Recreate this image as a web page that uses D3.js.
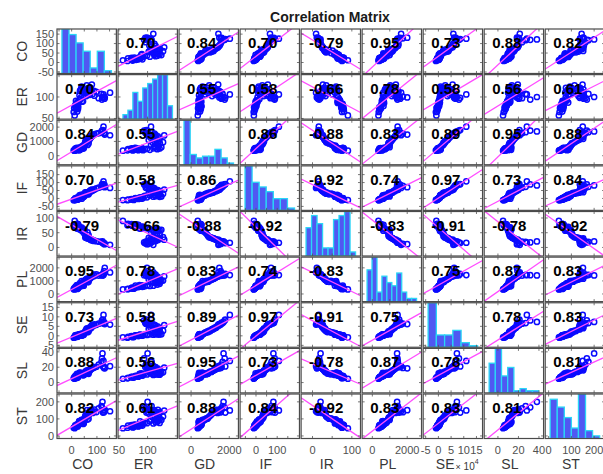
<!DOCTYPE html>
<html>
<head>
<meta charset="utf-8">
<script src="https://cdn.jsdelivr.net/npm/d3@7"></script>
<style>
  body { margin: 0; background: #fff; }
  svg { display: block; }
  text { font-family: "Liberation Sans", Arial, sans-serif; }
</style>
</head>
<body>
<svg id="chart" width="603" height="474"></svg>
<script>
// ---- data: 60 observations of nine indicators ----
const variables = ["CO", "ER", "GD", "IF", "IR", "PL", "SE", "SL", "ST"];

const CO = [12, 22, 8, 25, 15, 19, 10, 26, 18, 14, 24, 20, 16, 23, 17, 21,
  30, 40, 29.5, 45, 34, 37, 31, 48, 36, 43, 33, 46, 39, 42,
  52, 63, 50, 67, 56, 60, 54, 69, 58, 65, 61,
  74, 72, 78, 76, 83, 80, 88, 90, 98, 107,
  118, 122, 120, 126, 124, 130, 128, 131, 152];
const ER = [57, 66, 65, 72, 76, 71.8, 74, 77, 73, 80, 84, 79, 83, 88, 91, 86, 92, 89, 87, 90,
  95, 99, 104, 110, 117, 121, 114, 119, 124, 112,
  118, 106, 116, 121.5, 109, 127, 113, 120, 102, 117,
  111, 121, 105, 114.5, 118, 107, 129, 114, 103, 112,
  97, 107, 100, 94, 106, 98, 96, 101, 99, 110];
const GD = [350, 470, 380, 510, 400, 445, 365, 530, 420, 490, 385, 545, 410, 475, 440, 520,
  390, 500, 430, 535, 455, 480, 415, 515, 460, 505,
  580, 620, 600, 670, 710, 750, 800, 860, 900, 950,
  1010, 1060, 1100, 1140, 1180, 1220, 1270, 1310, 1350, 1390,
  1420, 1460, 1500, 1540, 1580, 1650, 1700, 1760, 2030, 1790, 1600, 1550, 1480, 1430];
const IF = [-10, -8, -11, -6, -9, -4, -7, -2, -5, 0, -3, 2, -1, 4, 1, 5, 3, -2, 5,
  8, 16, 7, 19, 11, 22, 10, 14, 20, 13, 22.5, 17,
  27, 31, 26, 35, 30, 38, 34, 36.5, 37, 39,
  44, 48, 46, 52, 50, 56, 54, 56.5,
  63, 68, 73, 82, 88, 108, 90, 85, 79, 71, 66];
const IR = [90, 80, 75, 79.5, 73, 78.5, 76, 77.5, 74, 78, 76.5, 77,
  71.5, 66, 70.5, 64, 69, 67, 70, 63.5, 68, 65,
  62, 57, 62.5, 59, 61, 56, 60, 55, 58, 51, 47, 42, 38,
  35, 34, 32.5, 33, 30, 31, 29, 28,
  26, 25, 24, 26.5, 22, 23, 21, 20, 19, 20.5,
  17, 16, 15, 14, 12, 11, 9];
const PL = [350, 390, 370, 420, 400, 450, 430, 470, 490, 510,
  530, 640, 560, 600, 545, 675, 580, 620, 570, 660, 590, 650, 610, 630,
  720, 780, 830, 860, 990, 880, 960, 900, 1000, 930, 940,
  1030, 1060, 1090, 1120, 1150, 1170, 1200, 1240, 1280, 1310, 1330,
  1350, 1480, 1380, 1500, 1410, 1460, 1420, 1440, 1450,
  1540, 1600, 1750, 2000, 1650];
// SE is in units of 10^4
const SE = [-0.8, -0.5, -1.0, -0.3, -0.6, -0.2, -0.7, 0.0, -0.4, 0.2, -0.1, 0.3, 0.1, 0.4, 0.2,
  0.5, 0.3, 0.1, 0.6, 0.4, 0.7, 0.5, 0.8, 0.6, 0.9, 0.7, 0.85, 0.8, 0.9,
  1.2, 1.5, 1.9, 1.7, 2.3, 2.0, 2.7, 2.5,
  3.2, 3.6, 3.4, 4.0, 3.8, 4.4, 4.2, 4.8,
  5.2, 5.6, 5.4, 6.0, 5.8, 6.4, 6.7, 7.3, 8.1, 11.0, 8.6, 6.9, 6.5, 6.2, 5.9];
const SL = [5, 6.2, 5.6, 7.0, 6.5, 7.4, 6.8, 7.9, 7.2, 8.3, 7.7, 8.6, 8.1, 9.0,
  9.3, 11.2, 9.8, 12.1, 10.2, 9.5, 11.8, 10.6, 12.8, 9.9, 11.5, 10.3, 13.1, 10.9,
  12.4, 10.5, 11.1, 12.0, 10.8, 11.4, 11.7,
  13.6, 14.2, 13.9, 14.8, 15.3, 15.9, 16.4, 17.0,
  17.6, 18.2, 18.8, 19.4, 20.1, 19.7, 20.6, 23.5, 27.0, 38.0, 31.5, 28.2,
  21.0, 20.3, 19.0, 18.5, 21.3];
const ST = [45, 60, 48, 64, 52, 57, 50, 66, 54, 62, 56, 65, 58, 63, 61,
  68, 80, 72, 86, 70, 78, 75, 87, 73, 84, 76, 81,
  90, 94, 92, 98, 96, 103, 101, 108,
  114, 120, 126, 131,
  136, 152, 138, 147, 141, 153, 135, 149, 143, 155, 140, 162, 175, 200, 168,
  150, 137, 154, 139, 151, 145];

// pairwise correlation coefficients, rows/cols in the order of `variables`
const corr = [
  [1.00, 0.70, 0.84, 0.70, -0.79, 0.95, 0.73, 0.88, 0.82],
  [0.70, 1.00, 0.55, 0.58, -0.66, 0.78, 0.58, 0.56, 0.61],
  [0.84, 0.55, 1.00, 0.86, -0.88, 0.83, 0.89, 0.95, 0.88],
  [0.70, 0.58, 0.86, 1.00, -0.92, 0.74, 0.97, 0.73, 0.84],
  [-0.79, -0.66, -0.88, -0.92, 1.00, -0.83, -0.91, -0.78, -0.92],
  [0.95, 0.78, 0.83, 0.74, -0.83, 1.00, 0.75, 0.87, 0.83],
  [0.73, 0.58, 0.89, 0.97, -0.91, 0.75, 1.00, 0.78, 0.83],
  [0.88, 0.56, 0.95, 0.73, -0.78, 0.87, 0.78, 1.00, 0.81],
  [0.82, 0.61, 0.88, 0.84, -0.92, 0.83, 0.83, 0.81, 1.00]
];

// axis limits and tick labels per variable
const axisLimits = {
  CO: [-58, 177], ER: [48.5, 152], GD: [-630, 2480], IF: [-75, 205], IR: [-29, 122],
  PL: [-585, 2820], SE: [-6, 17.4], SL: [-13.4, 44.5], ST: [-15, 246]
};
const yTicks = {
  CO: [-50, 0, 50, 100, 150], ER: [50, 100], GD: [0, 1000, 2000], IF: [-50, 0, 50, 100, 150],
  IR: [0, 50, 100], PL: [0, 1000, 2000], SE: [-5, 0, 5, 10, 15], SL: [0, 20, 40], ST: [0, 100, 200]
};
const xTicks = {
  CO: [0, 100], ER: [50, 100], GD: [0, 2000], IF: [0, 100], IR: [0, 100],
  PL: [0, 2000], SE: [-5, 0, 5, 10, 15], SL: [0, 20, 40], ST: [0, 100, 200]
};
const histBins = { CO: 7, ER: 10, GD: 8, IF: 7, IR: 9, PL: 10, SE: 6, SL: 8, ST: 7 };

const series = { CO, ER, GD, IF, IR, PL, SE, SL, ST };

// ---- layout ----
const svg = d3.select("#chart");
const colBand = d3.scaleBand().domain(variables).range([57, 604.6]).paddingInner(0.027);
const rowBand = d3.scaleBand().domain(variables).range([29, 438.5]).paddingInner(0.025);
const cw = colBand.bandwidth(), ch = rowBand.bandwidth();

svg.append("rect").attr("width", 603).attr("height", 474).attr("fill", "#fff");
svg.append("defs").append("clipPath").attr("id", "cellClip")
  .append("rect").attr("width", cw).attr("height", ch);

svg.append("text")
  .attr("x", 330).attr("y", 22)
  .attr("text-anchor", "middle")
  .attr("font-size", 14).attr("font-weight", "bold").attr("fill", "#1a1a1a")
  .text("Correlation Matrix");

variables.forEach((vy, i) => {
  variables.forEach((vx, j) => {
    const g = svg.append("g").attr("transform", `translate(${colBand(vx)},${rowBand(vy)})`);
    g.append("rect").attr("width", cw).attr("height", ch).attr("fill", "#fff");
    const inner = g.append("g").attr("clip-path", "url(#cellClip)");
    const x = d3.scaleLinear().domain(axisLimits[vx]).range([0, cw]);
    const y = d3.scaleLinear().domain(axisLimits[vy]).range([ch, 0]);

    if (i === j) {
      // histogram of the variable
      const vals = series[vx];
      const [lo, hi] = d3.extent(vals);
      const k = histBins[vx];
      const thresholds = d3.range(1, k).map(n => lo + (hi - lo) * n / k);
      const bins = d3.bin().domain([lo, hi]).thresholds(thresholds)(vals);
      const pad = (hi - lo) * 0.1;
      const hx = d3.scaleLinear().domain([lo - pad, hi + pad]).range([0, cw]);
      const hy = d3.scaleLinear().domain([0, d3.max(bins, b => b.length)]).range([ch, 0]);
      inner.selectAll("rect.bar").data(bins).join("rect")
        .attr("class", "bar")
        .attr("x", b => hx(b.x0))
        .attr("width", b => hx(b.x1) - hx(b.x0))
        .attr("y", b => hy(b.length))
        .attr("height", b => ch - hy(b.length))
        .attr("fill", "#5058f2")
        .attr("stroke", "#2ad6f6")
        .attr("stroke-width", 1.3);
    } else {
      const xs = series[vx], ys = series[vy];
      inner.selectAll("circle").data(d3.range(xs.length)).join("circle")
        .attr("cx", n => x(xs[n]))
        .attr("cy", n => y(ys[n]))
        .attr("r", 2.6)
        .attr("fill", "none")
        .attr("stroke", "#0a0aff")
        .attr("stroke-width", 1.5);
      // least-squares line from the correlation coefficient
      const r = corr[i][j];
      const slope = r * d3.deviation(ys) / d3.deviation(xs);
      const icpt = d3.mean(ys) - slope * d3.mean(xs);
      const [x0, x1] = x.domain();
      inner.append("path")
        .attr("d", d3.line()([[x(x0), y(icpt + slope * x0)], [x(x1), y(icpt + slope * x1)]]))
        .attr("stroke", "#ff4dff").attr("stroke-width", 1.3).attr("fill", "none");
    }

    // small inward tick marks
    const tk = g.append("g").attr("stroke", "#555").attr("stroke-width", 0.8);
    yTicks[vx].filter(t => t > x.domain()[0] && t < x.domain()[1]).forEach(t => {
      tk.append("line").attr("x1", x(t)).attr("x2", x(t)).attr("y1", ch).attr("y2", ch - 2.5);
      tk.append("line").attr("x1", x(t)).attr("x2", x(t)).attr("y1", 0).attr("y2", 2.5);
    });
    yTicks[vy].filter(t => t > y.domain()[0] && t < y.domain()[1]).forEach(t => {
      tk.append("line").attr("y1", y(t)).attr("y2", y(t)).attr("x1", 0).attr("x2", 2.5);
      tk.append("line").attr("y1", y(t)).attr("y2", y(t)).attr("x1", cw).attr("x2", cw - 2.5);
    });

    g.append("rect").attr("width", cw).attr("height", ch)
      .attr("fill", "none").attr("stroke", "#4a4a4a").attr("stroke-width", 1.2);

    if (i !== j) {
      g.append("text")
        .attr("x", 8).attr("y", 19)
        .attr("font-size", 15).attr("font-weight", "bold").attr("fill", "#000")
        .text(corr[i][j].toFixed(2));
    }

    // y tick labels on the first column
    if (j === 0) {
      yTicks[vy].forEach(t => {
        g.append("text")
          .attr("x", -3).attr("y", y(t)).attr("dy", "0.35em")
          .attr("text-anchor", "end")
          .attr("font-size", 11).attr("fill", "#505050")
          .text(String(t));
      });
    }
    // x tick labels on the bottom row
    if (i === variables.length - 1) {
      xTicks[vx].forEach(t => {
        g.append("text")
          .attr("x", x(t)).attr("y", ch + 16)
          .attr("text-anchor", "middle")
          .attr("font-size", 11).attr("fill", "#505050")
          .text(String(t));
      });
    }
  });
});

// variable names
variables.forEach(v => {
  const cy = rowBand(v) + ch / 2;
  svg.append("text")
    .attr("transform", `translate(27,${cy}) rotate(-90)`)
    .attr("text-anchor", "middle")
    .attr("font-size", 14).attr("fill", "#383838")
    .text(v);

  const cx = colBand(v) + cw / 2 - 4;
  if (v === "SE") {
    const t = svg.append("text")
      .attr("x", cx - 13).attr("y", 469)
      .attr("font-size", 14).attr("fill", "#383838");
    t.append("tspan").text("SE");
    t.append("tspan").attr("font-size", 9).attr("dy", 1).attr("dx", 1).text("\u00d7");
    t.append("tspan").attr("font-size", 10).attr("dy", 0).text(" 10");
    t.append("tspan").attr("font-size", 7).attr("dy", -6).text("4");
  } else {
    svg.append("text")
      .attr("x", cx).attr("y", 469)
      .attr("text-anchor", "middle")
      .attr("font-size", 14).attr("fill", "#383838")
      .text(v);
  }
});
</script>
</body>
</html>
